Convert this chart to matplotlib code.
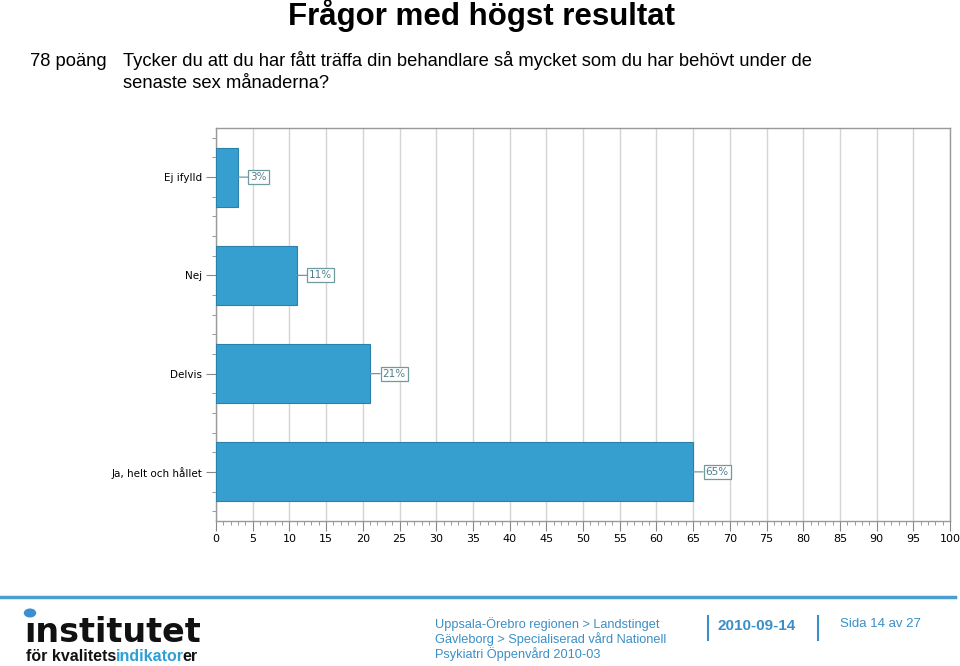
import matplotlib
matplotlib.use("Agg")
import matplotlib.pyplot as plt
import numpy as np
from matplotlib.ticker import MultipleLocator

# --- data ---
categories = ["Ej ifylld", "Nej", "Delvis", "Ja, helt och hållet"]
percent = [3, 11, 21, 65]
x_ticks = list(range(0, 101, 5))

title = "Frågor med högst resultat"
score_text = "78 poäng"
question_lines = ["Tycker du att du har fått träffa din behandlare så mycket som du har behövt under de",
                  "senaste sex månaderna?"]
footer_lines = ["Uppsala-Örebro regionen > Landstinget",
                "Gävleborg > Specialiserad vård Nationell",
                "Psykiatri Öppenvård 2010-03"]
date_text = "2010-09-14"
page_text = "Sida 14 av 27"

bar_color = "#379fcf"
edge_color = "#2a7fab"
label_color = "#4f7f8c"
foot_blue = "#3b8fc7"

plt.rcParams["font.family"] = ["Liberation Sans", "DejaVu Sans"]

fig = plt.figure(figsize=(9.6, 6.66), dpi=100)
W, H = 960, 666

def fx(px):
    return px / W

def fy(py):
    return 1 - py / H

# --- header ---
fig.text(fx(481), fy(15), title, fontsize=22.5, fontweight="bold", ha="center", va="center")
fig.text(fx(30), fy(66), score_text, fontsize=13.2, ha="left", va="baseline")
for i, line in enumerate(question_lines):
    fig.text(fx(123), fy(66 + 22 * i), line, fontsize=13.2, ha="left", va="baseline")

# --- chart ---
ax = fig.add_axes([fx(216), fy(521), fx(950) - fx(216), fy(128) - fy(521)])
y = np.arange(len(categories))[::-1]
ax.barh(y, percent, height=0.6, color=bar_color, edgecolor=edge_color, linewidth=0.8, zorder=3)
ax.set_xlim(0, 100)
ax.set_ylim(-0.5, len(categories) - 0.5)
ax.set_xticks(x_ticks)
ax.set_xticklabels([str(t) for t in x_ticks], fontsize=8, family="DejaVu Sans")
ax.xaxis.set_minor_locator(MultipleLocator(1))
ax.set_yticks(y)
ax.set_yticklabels(categories, fontsize=7.5, family="DejaVu Sans")
ax.yaxis.set_minor_locator(MultipleLocator(0.2))
ax.tick_params(axis="both", which="major", length=7, color="#888888", pad=3)
ax.tick_params(axis="x", which="major", pad=2)
ax.tick_params(axis="both", which="minor", length=3, color="#888888")
ax.grid(axis="x", color="#d4d4d4", linewidth=1.0, zorder=0)
for s in ax.spines.values():
    s.set_color("#999999")
    s.set_linewidth(1.0)

for yi, v in zip(y, percent):
    ax.annotate(f"{v}%", xy=(v, yi), xytext=(9, 0), textcoords="offset points",
                fontsize=7.5, family="DejaVu Sans", color=label_color, va="center", ha="left",
                bbox=dict(boxstyle="square,pad=0.2", fc="white", ec="#6f9a9f", lw=0.9),
                arrowprops=dict(arrowstyle="-", color="#6f9a9f", lw=0.9, shrinkA=0, shrinkB=0),
                zorder=4)

# --- footer ---
fig.add_artist(plt.Line2D([0, fx(955)], [fy(597), fy(597)], color="#4a9fcf", lw=2.5))

# logo: dotless i with a blue dot on top
fig.text(fx(24), fy(642), "\u0131nstitutet", fontsize=24, fontweight="bold",
         family="DejaVu Sans", ha="left", va="baseline", color="#111111")
fig.add_artist(plt.Circle((fx(30), fy(613)), 5.5 / W, color="#3a8fd0",
                          transform=fig.transFigure))

# second logo line: black "för kvalitets" + blue "indikator" + black "er"
lx, ly = fx(26), fy(661)
logo_kw = dict(fontsize=11.5, fontweight="bold", ha="left", va="baseline")
r = fig.canvas.get_renderer()

def width_of(s):
    tmp = fig.text(0, 0, s, **logo_kw)
    w = tmp.get_window_extent(r).width
    tmp.remove()
    return w

w_all = width_of("för kvalitetsindikatorer")
w_a = w_all - width_of("indikatorer")
w_ab = w_all - width_of("er") - 2
fig.text(lx, ly, "för kvalitets", color="#111111", **logo_kw)
fig.text(lx + w_a / W, ly, "indikator", color="#2f9fd6", **logo_kw)
fig.text(lx + w_ab / W, ly, "er", color="#111111", **logo_kw)

for i, line in enumerate(footer_lines):
    fig.text(fx(435), fy(624 + 15 * i), line, fontsize=9.2, color=foot_blue,
             ha="left", va="center")
fig.add_artist(plt.Line2D([fx(708), fx(708)], [fy(616), fy(640)], color=foot_blue, lw=1.5))
fig.add_artist(plt.Line2D([fx(818), fx(818)], [fy(616), fy(640)], color=foot_blue, lw=1.5))
fig.text(fx(717), fy(626), date_text, fontsize=11, fontweight="bold", color=foot_blue,
         ha="left", va="center")
fig.text(fx(840), fy(624), page_text, fontsize=9.5, color=foot_blue, ha="left", va="center")

fig.savefig("out.png", dpi=100)
